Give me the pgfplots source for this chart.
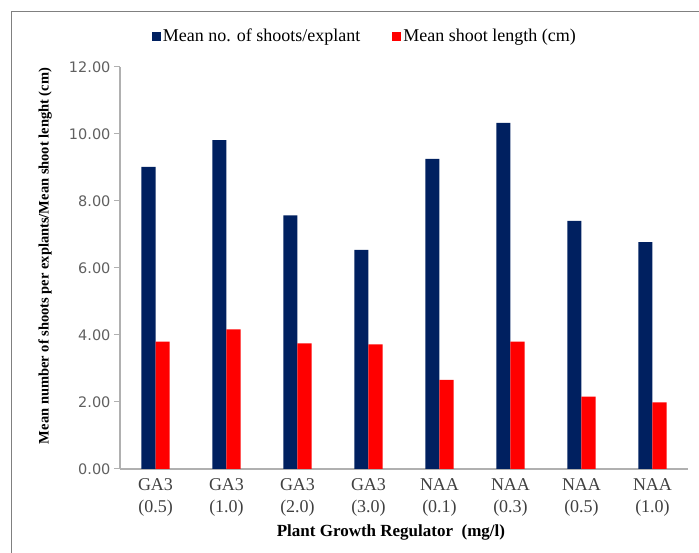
\documentclass[border=0pt]{standalone}
\usepackage{fontspec}
\setmainfont{Liberation Serif}
\newfontfamily\tickfont{DejaVu Sans}
\usepackage{pgfplots}
\pgfplotsset{compat=1.18}
\definecolor{navy}{HTML}{002060}
\definecolor{axgray}{HTML}{B0B0B0}
\definecolor{tickgray}{HTML}{606060}

\begin{document}
\begin{tikzpicture}
\path[use as bounding box] (0,0) rectangle (699pt,553pt);
\draw[gray, line width=1pt] (11pt,0) -- (11pt,541pt) -- (699pt,541pt);
\begin{axis}[
    at={(120pt,84pt)}, anchor=south west,
    scale only axis, width=568pt, height=402pt,
    ybar=0pt, bar width=0.2,
    xmin=-0.5, xmax=7.5, ymin=0, ymax=12,
    xtick=data,
    xticklabels={{GA3\\(0.5)},{GA3\\(1.0)},{GA3\\(2.0)},{GA3\\(3.0)},{NAA\\(0.1)},{NAA\\(0.3)},{NAA\\(0.5)},{NAA\\(1.0)}},
    xticklabel style={align=center, font=\fontsize{18}{22}\selectfont, text=black!75},
    xtick style={draw=none},
    ytick={0,2,...,12},
    yticklabel style={font=\tickfont\fontsize{14.5}{15}\selectfont, text=tickgray},
    /pgf/number format/.cd, fixed, fixed zerofill, precision=2, assume math mode=true, /pgfplots/.cd,
    ytick style={axgray, line width=1pt}, tick align=outside, major tick length=6pt,
    axis x line*=bottom, axis y line*=left,
    axis line style={axgray, line width=1.2pt, -},
    xlabel={\textbf{Plant Growth Regulator\ \ (mg/l)}},
    ylabel={\textbf{Mean number of shoots per explants/Mean shoot lenght (cm)}},
    xlabel style={font=\fontsize{17}{20}\selectfont, at={(axis description cs:0.477,-0.157)}, anchor=center},
    ylabel style={font=\fontsize{14.5}{16}\selectfont, at={(axis description cs:-0.132,0.53)}, anchor=center, rotate=0},
    legend style={at={(0.431,1.077)}, anchor=center, legend columns=2, draw=none,
        font=\fontsize{18}{20}\selectfont, /tikz/every even column/.append style={column sep=30pt}},
    legend image code/.code={\fill[#1] (0pt,-4.5pt) rectangle (9pt,4.5pt);},
]
\addplot[fill=navy, draw=none] coordinates {
    (0,9.02) (1,9.82) (2,7.57) (3,6.54) (4,9.26) (5,10.33) (6,7.41) (7,6.77)
};
\addplot[fill=red, draw=none] coordinates {
    (0,3.80) (1,4.17) (2,3.75) (3,3.72) (4,2.66) (5,3.80) (6,2.16) (7,1.99)
};
\legend{Mean no. of shoots/explant, Mean shoot length (cm)}
\end{axis}
\end{tikzpicture}
\end{document}
